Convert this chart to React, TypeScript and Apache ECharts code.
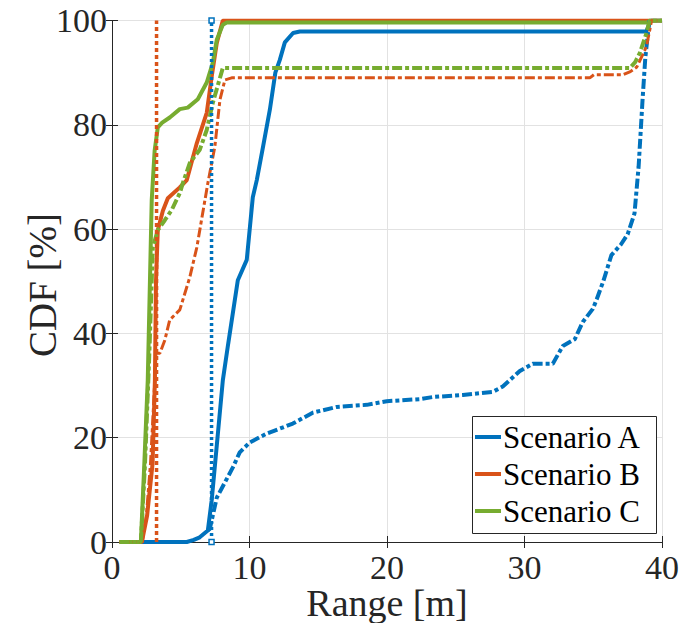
import React, { useEffect, useRef } from "react";
import * as echarts from "echarts";

// Range [m] vs CDF [%]
const scenarioA_solid: number[][] = [
  [0.55, 0], [5.44, 0], [5.95, 0.4], [6.38, 0.9], [6.97, 2.2], [7.25, 8], [8.06, 31], [8.45, 38],
  [9.15, 50.2], [9.8, 54.1], [10.24, 66.1], [10.53, 69.4], [11.0, 76], [11.48, 82.9], [11.88, 90],
  [12.2, 92.4], [12.57, 95.8], [13.17, 97.6], [13.66, 97.9], [38.85, 97.9], [39.2, 100], [40, 100],
];
const scenarioB_solid: number[][] = [
  [0.55, 0], [2.17, 0], [2.55, 5], [2.95, 15], [3.12, 31], [3.2, 50], [3.33, 59.8], [3.7, 63.5],
  [4.06, 65.9], [4.93, 68], [5.44, 69.4], [6.17, 76.5], [6.89, 82.3], [7.25, 89.2], [7.62, 95.7],
  [8.06, 100], [40, 100],
];
const scenarioC_solid: number[][] = [
  [0.55, 0], [2.1, 0], [2.35, 15], [2.6, 31], [2.89, 65.6], [3.1, 75], [3.33, 79.5], [3.65, 80.4],
  [4.2, 81.4], [4.93, 83], [5.51, 83.3], [6.24, 84.9], [6.89, 88.1], [7.33, 91.9], [7.62, 96.3],
  [8.06, 99.2], [8.35, 99.6], [38.9, 99.6], [39.15, 100], [40, 100],
];
const scenarioA_dashdot: number[][] = [
  [6.97, 2.2], [7.11, 2.5], [7.62, 8.5], [8.79, 14.3], [9.29, 17.2], [10.02, 19.1], [11.26, 20.8],
  [13.15, 22.7], [14.6, 24.8], [16.35, 25.9], [18.53, 26.3], [19.98, 27.0], [22.4, 27.4],
  [23.34, 27.8], [25.52, 28.2], [27.7, 28.8], [28.42, 29.8], [29.66, 32.8], [30.6, 34.2],
  [32.06, 34.2], [32.79, 37.6], [33.66, 38.9], [34.24, 42.2], [34.97, 44.7], [35.26, 46.6],
  [35.73, 50], [36.32, 55], [37.0, 57], [37.5, 59], [38.0, 63], [38.3, 72], [38.59, 85],
  [38.79, 93], [39.08, 100],
];
const scenarioB_dashdot: number[][] = [
  [0.55, 0], [2.2, 0], [2.5, 5], [2.8, 15], [3.0, 25], [3.11, 31], [3.2, 36.2], [3.48, 36.2],
  [3.84, 38.7], [4.2, 42.6], [4.93, 44.5], [5.66, 50.8], [6.17, 56.5], [6.97, 68.8],
  [7.48, 75.8], [7.85, 84.8], [8.21, 88.6], [8.7, 89], [34.75, 89], [35.05, 89.6], [37.17, 89.6],
  [37.7, 90.2], [38.17, 91.1], [38.87, 95], [39.11, 98.2], [39.24, 100], [40, 100],
];
const scenarioC_dashdot: number[][] = [
  [0.55, 0], [2.1, 0], [2.4, 15], [2.7, 35], [2.97, 56.5], [3.33, 59.8], [3.84, 61.7], [4.35, 63.7],
  [4.93, 66.9], [5.15, 68.8], [5.66, 72.7], [6.38, 75.2], [6.89, 79], [7.33, 84.2], [8.06, 90.9],
  [37.66, 90.9], [38.05, 92], [38.39, 93.8], [38.87, 97.6], [39.1, 100], [40, 100],
];
const scenarioA_dotted: number[][] = [[7.24, 0], [7.24, 100]];
const scenarioB_dotted: number[][] = [[3.24, 0], [3.24, 100]];

const legendNames = ["Scenario A", "Scenario B", "Scenario C"];
const xAxisTitle = "Range [m]";
const yAxisTitle = "CDF [%]";
const xTicks = { min: 0, max: 40, interval: 10 };
const yTicks = { min: 0, max: 100, interval: 20 };

const BLUE = "#0072BD";
const ORANGE = "#D95319";
const GREEN = "#77AC30";
const COLORS = [BLUE, ORANGE, GREEN];
const AXIS = "#262626";
const FONT = "Liberation Serif";
const DASHDOT = [10, 3, 4, 3];

export default function App() {
  const ref = useRef<HTMLDivElement>(null);
  useEffect(() => {
    if (!ref.current) return;
    const chart = echarts.init(ref.current, undefined, { renderer: "svg" });
    const line = (name: string, data: number[][], color: string, type: any, width: number, z: number) => ({
      name,
      type: "line",
      data,
      showSymbol: false,
      symbol: "none",
      lineStyle: { color, width, type, cap: "butt" },
      itemStyle: { color },
      z,
      silent: true,
    });
    const txt = (size: number, color: string) => ({ fontFamily: FONT, fontSize: size, color });
    const gtext = (text: string, size: number, fill: string, align: string) => ({
      text, fontFamily: FONT, fontSize: size, fontStyle: "normal", fontWeight: "normal",
      fill, textAlign: align, textVerticalAlign: "middle",
    });

    // legend box (drawn as graphic)
    const LX = 472, LY = 416, LW = 184, LH = 117;
    const rowY = [437, 474, 511];
    const legendEls: any[] = [
      {
        type: "rect",
        shape: { x: LX + 0.5, y: LY + 0.5, width: LW, height: LH },
        style: { fill: "#ffffff", stroke: AXIS, lineWidth: 1 },
        z: 100,
      },
    ];
    legendNames.forEach((n, i) => {
      legendEls.push({
        type: "line",
        shape: { x1: LX + 3, y1: rowY[i], x2: LX + 29, y2: rowY[i] },
        style: { stroke: COLORS[i], lineWidth: 4 },
        z: 101,
      });
      legendEls.push({
        type: "text",
        x: LX + 31,
        y: rowY[i],
        style: gtext(n, 31, "#000", "left"),
        z: 101,
      });
    });

    chart.setOption({
      animation: false,
      backgroundColor: "#ffffff",
      grid: {
        left: 112, right: 32, top: 20.5, bottom: 81,
        containLabel: false, outerBoundsMode: "none",
      },
      graphic: [
        { type: "text", x: 387, y: 603, style: gtext(xAxisTitle, 38, AXIS, "center"), z: 100 },
        {
          type: "text", x: 42, y: 285, rotation: Math.PI / 2,
          style: gtext(yAxisTitle, 39, AXIS, "center"), z: 100,
        },
        ...legendEls,
      ],
      xAxis: [
        {
          type: "value",
          min: xTicks.min,
          max: xTicks.max,
          interval: xTicks.interval,
          axisLine: { show: true, lineStyle: { color: AXIS, width: 1 } },
          axisTick: { show: true, inside: true, length: 6, lineStyle: { color: AXIS } },
          axisLabel: { ...txt(34, AXIS), margin: 8 },
          splitLine: { show: true, lineStyle: { color: "#e2e2e2", width: 1 } },
        },
        {
          type: "value",
          position: "top",
          min: xTicks.min,
          max: xTicks.max,
          interval: xTicks.interval,
          axisLine: { show: true, lineStyle: { color: AXIS, width: 1 } },
          axisTick: { show: true, inside: true, length: 6, lineStyle: { color: AXIS } },
          axisLabel: { show: false },
          splitLine: { show: false },
        },
      ],
      yAxis: [
        {
          type: "value",
          min: yTicks.min,
          max: yTicks.max,
          interval: yTicks.interval,
          axisLine: { show: true, lineStyle: { color: AXIS, width: 1 } },
          axisTick: { show: true, inside: true, length: 6, lineStyle: { color: AXIS } },
          axisLabel: { ...txt(34, AXIS), margin: 5 },
          splitLine: { show: true, lineStyle: { color: "#e2e2e2", width: 1 } },
        },
        {
          type: "value",
          position: "right",
          min: yTicks.min,
          max: yTicks.max,
          interval: yTicks.interval,
          axisLine: { show: true, lineStyle: { color: AXIS, width: 1 } },
          axisTick: { show: true, inside: true, length: 6, lineStyle: { color: AXIS } },
          axisLabel: { show: false },
          splitLine: { show: false },
        },
      ],
      series: [
        line(legendNames[0], scenarioA_solid, BLUE, "solid", 4, 3),
        line(legendNames[1], scenarioB_solid, ORANGE, "solid", 4, 3),
        line(legendNames[2], scenarioC_solid, GREEN, "solid", 4, 3),
        line("A dash-dot", scenarioA_dashdot, BLUE, DASHDOT, 4, 4),
        line("B dash-dot", scenarioB_dashdot, ORANGE, DASHDOT, 3, 4),
        line("C dash-dot", scenarioC_dashdot, GREEN, DASHDOT, 4, 4),
        {
          ...line("A dotted", scenarioA_dotted, BLUE, [3, 3], 3.5, 5),
          showSymbol: true,
          symbol: "rect",
          symbolSize: 5,
          itemStyle: { color: "#ffffff", borderColor: BLUE, borderWidth: 1.5 },
        },
        line("B dotted", scenarioB_dotted, ORANGE, [4, 3], 3.5, 5),
      ],
    });
    return () => chart.dispose();
  }, []);
  return <div ref={ref} style={{ width: 694, height: 623, position: "absolute", left: 0, top: 0 }} />;
}
